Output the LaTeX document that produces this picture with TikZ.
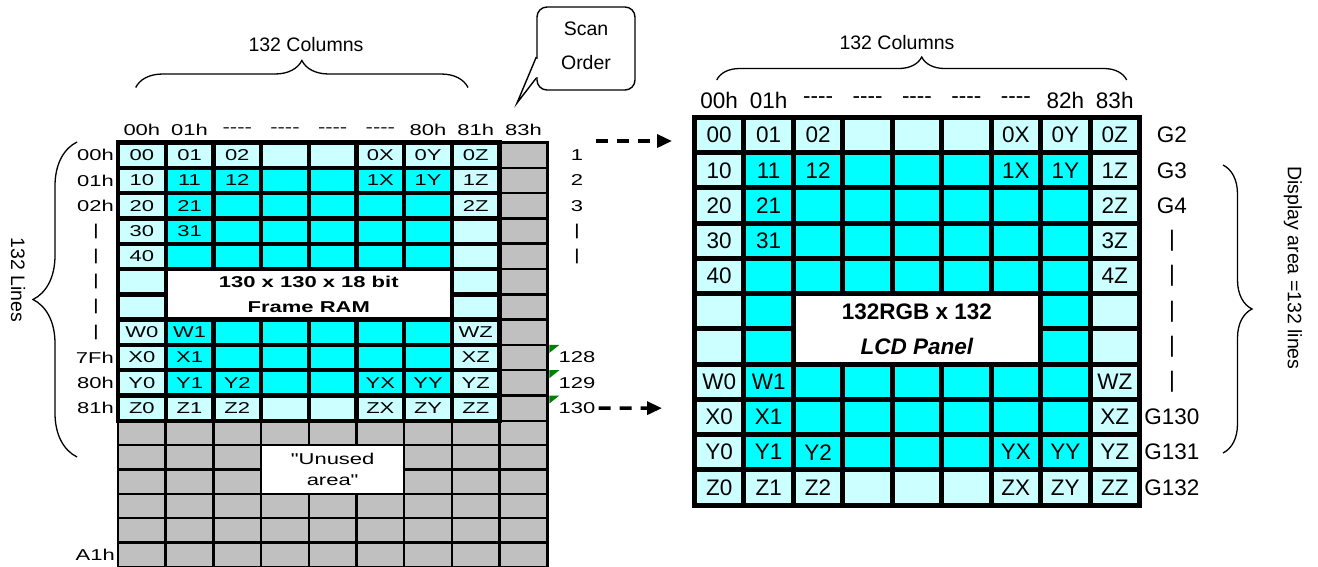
\documentclass[tikz,border=0pt]{standalone}
\usepackage{fontspec}
\setmainfont{Liberation Sans}[Ligatures=TeXOff]
\newfontfamily\ramfont{Liberation Sans}[FakeStretch=1.4,Ligatures=TeXOff]
\usetikzlibrary{arrows.meta,decorations.pathreplacing}

\definecolor{lt}{RGB}{204,255,255}
\definecolor{cy}{RGB}{0,255,255}
\definecolor{ramgray}{RGB}{192,192,192}
\definecolor{notegreen}{RGB}{0,128,0}

\begin{document}
\begin{tikzpicture}[x=1pt,y=-1pt,
    ramtxt/.style={font=\ramfont\fontsize{15.7}{18}\selectfont, inner sep=0pt},
    lcdtxt/.style={font=\fontsize{22.5}{26}\selectfont, inner sep=0pt},
    captxt/.style={font=\fontsize{19.5}{22}\selectfont, inner sep=0pt},
    ramcell/.style={ramtxt, minimum width=43.3pt, minimum height=20.9pt},
    lcdcell/.style={lcdtxt, minimum width=44.4pt, minimum height=30.2pt},
    graycell/.style={fill=ramgray, draw=black, line width=2.5pt},
    bracedeco/.style={decorate, decoration={brace, amplitude=#1}, line width=1.3pt},
    scanarrow/.style={line width=3.5pt, dash pattern=on 12pt off 9pt, -{Triangle[length=15pt,width=13pt]}},
    notemark/.style={fill=notegreen}]

\useasboundingbox (0,0) rectangle (1318,566);

% Unused area below the frame RAM
\begin{scope}[shift={(118,420.8)}, x=47.7pt, y=-24.35pt]
  \foreach \row in {0,...,5}
    \foreach \col in {0,...,8}
      \draw[graycell] (\col,\row) rectangle (\col+1,\row+1);
  \node[graycell, fill=white, ramtxt, minimum width=143.1pt, minimum height=48.7pt, align=center,
        font=\ramfont\fontsize{15.7}{21}\selectfont] (unused) at (4.5,2) {"Unused\\area"};
  \node[ramtxt, anchor=east, xshift=-3pt] (ramrow-A1) at (0,5.5) {A1h};
\end{scope}

% Frame RAM
\begin{scope}[shift={(118,142.5)}, x=47.7pt, y=-25.3pt]
  \foreach \row in {0,...,10}
    \draw[graycell] (8,\row) rectangle (9,\row+1);
  \fill ([shift={(-2.2pt,2.2pt)}]0,0) rectangle ([shift={(2.2pt,-2.2pt)}]8,11);
  \foreach \cells [count=\row from 0] in {
      {00/lt,01/lt,02/lt,/lt,/lt,0X/lt,0Y/lt,0Z/lt},
      {10/lt,11/cy,12/cy,/cy,/cy,1X/cy,1Y/cy,1Z/lt},
      {20/lt,21/cy,/cy,/cy,/cy,/cy,/cy,2Z/lt},
      {30/lt,31/cy,/cy,/cy,/cy,/cy,/cy,/lt},
      {40/lt,/cy,/cy,/cy,/cy,/cy,/cy,/lt},
      {/lt,/white,/white,/white,/white,/white,/white,/lt},
      {/lt,/white,/white,/white,/white,/white,/white,/lt},
      {W0/lt,W1/cy,/cy,/cy,/cy,/cy,/cy,WZ/lt},
      {X0/lt,X1/cy,/cy,/cy,/cy,/cy,/cy,XZ/lt},
      {Y0/lt,Y1/cy,Y2/cy,/cy,/cy,YX/cy,YY/cy,YZ/lt},
      {Z0/lt,Z1/lt,Z2/lt,/lt,/lt,ZX/lt,ZY/lt,ZZ/lt}}
    \foreach \lab/\fc [count=\col from 0] in \cells
      \node[ramcell, fill=\fc] (ram-\row-\col) at (\col+.5,\row+.5) {\lab};
  \node[ramtxt, fill=white, minimum width=281.8pt, minimum height=46.2pt, align=center,
        font=\ramfont\bfseries\fontsize{15.7}{25.3}\selectfont] (frameram) at (4,6) {130 x 130 x 18 bit\\Frame RAM};
  % addresses
  \foreach \lab [count=\col from 0] in {00h,01h,----,----,----,----,80h,81h,83h}
    \node[ramtxt, yshift=12.5pt] (ramcol-\col) at (\col+.5,0) {\lab};
  \foreach \lab/\row in {00h/0,01h/1,02h/2,7Fh/8,80h/9,81h/10}
    \node[ramtxt, anchor=east, xshift=-4pt] (ramrow-\row) at (0,\row+.5) {\lab};
  \foreach \row in {3,...,7}
    \node[ramtxt, xshift=-22pt] (rambar-\row) at (0,\row+.5) {|};
  % scan lines
  \foreach \lab/\row in {1/0,2/1,3/2,|/3,|/4,128/8,129/9,130/10}
    \node[ramtxt, xshift=29.7pt] (scan-\row) at (9,\row+.5) {\lab};
  \foreach \row in {8,9,10}
    \fill[notemark] ([xshift=2pt]9,\row) -- ++(10pt,0pt) -- ++(-10pt,-8pt) -- cycle;
\end{scope}

% LCD panel
\begin{scope}[shift={(694.5,117.5)}, x=49.44pt, y=-35.23pt]
  \fill ([shift={(-2.5pt,2.5pt)}]0,0) rectangle ([shift={(2.5pt,-2.5pt)}]9,11);
  \foreach \cells [count=\row from 0] in {
      {00/lt,01/lt,02/lt,/lt,/lt,/lt,0X/lt,0Y/lt,0Z/lt},
      {10/lt,11/cy,12/cy,/cy,/cy,/cy,1X/cy,1Y/cy,1Z/lt},
      {20/lt,21/cy,/cy,/cy,/cy,/cy,/cy,/cy,2Z/lt},
      {30/lt,31/cy,/cy,/cy,/cy,/cy,/cy,/cy,3Z/lt},
      {40/lt,/cy,/cy,/cy,/cy,/cy,/cy,/cy,4Z/lt},
      {/lt,/cy,/white,/white,/white,/white,/white,/cy,/lt},
      {/lt,/cy,/white,/white,/white,/white,/white,/cy,/lt},
      {W0/lt,W1/cy,/cy,/cy,/cy,/cy,/cy,/cy,WZ/lt},
      {X0/lt,X1/cy,/cy,/cy,/cy,/cy,/cy,/cy,XZ/lt},
      {Y0/lt,Y1/cy,Y2/cy,/cy,/cy,/cy,YX/cy,YY/cy,YZ/lt},
      {Z0/lt,Z1/lt,Z2/lt,/lt,/lt,/lt,ZX/lt,ZY/lt,ZZ/lt}}
    \foreach \lab/\fc [count=\col from 0] in \cells
      \node[lcdcell, fill=\fc] (lcd-\row-\col) at (\col+.5,\row+.5) {\lab};
  \node[lcdtxt, fill=white, minimum width=242.2pt, minimum height=65.5pt, align=center,
        font=\bfseries\fontsize{22.5}{35.2}\selectfont] (lcdpanel) at (4.5,6) {132RGB x 132\\\textit{LCD Panel}};
  % addresses and gate lines
  \foreach \lab [count=\col from 0] in {00h,01h,----,----,----,----,----,82h,83h}
    \node[lcdtxt, yshift=17.5pt] (lcdcol-\col) at (\col+.5,0) {\lab};
  \foreach \lab/\row in {G2/0,G3/1,G4/2,|/3,|/4,|/5,|/6,|/7,G130/8,G131/9,G132/10}
    \node[lcdtxt, xshift=32.5pt] (gate-\row) at (9,\row+.5) {\lab};
\end{scope}

% braces
\draw[bracedeco=27pt] (135.7,87.5) -- (468,87.5);
\node[captxt] (ramcols) at (306,45) {132 Columns};
\draw[bracedeco=23pt] (716.7,80) -- (1126.7,80);
\node[captxt] (lcdcols) at (897,43) {132 Columns};
\draw[bracedeco=44pt] (77,457) -- (77,142);
\node[captxt, rotate=-90] (ramlines) at (18,280) {132 Lines};
\draw[bracedeco=29pt] (1223,165) -- (1223,453);
\node[captxt, rotate=-90] (lcdlines) at (1293,268) {Display area =132 lines};

% Scan Order callout
\node[captxt, draw, line width=1.4pt, rounded corners=10pt, minimum width=98pt, minimum height=83pt,
      align=center, text depth=5.6pt, font=\fontsize{19.5}{33.5}\selectfont] (scanorder) at (586,48.5) {Scan\\Order};
\coordinate (scantip) at (517,103);
\fill[white] (535.5,58.5) rectangle (539,76.5);
\draw[line width=1.4pt] ([yshift=-8.5pt]scanorder.west) -- (scantip) -- ([yshift=-29.5pt]scanorder.west);

% scan arrows
\coordinate (topfrom) at (596,141);
\coordinate (topto) at (672,141);
\draw[scanarrow] (topfrom) -- (topto);
\coordinate (botto) at (662,408.15);
\draw[scanarrow, shorten <=3pt] (scan-10.east) -- (botto);
\end{tikzpicture}
\end{document}
